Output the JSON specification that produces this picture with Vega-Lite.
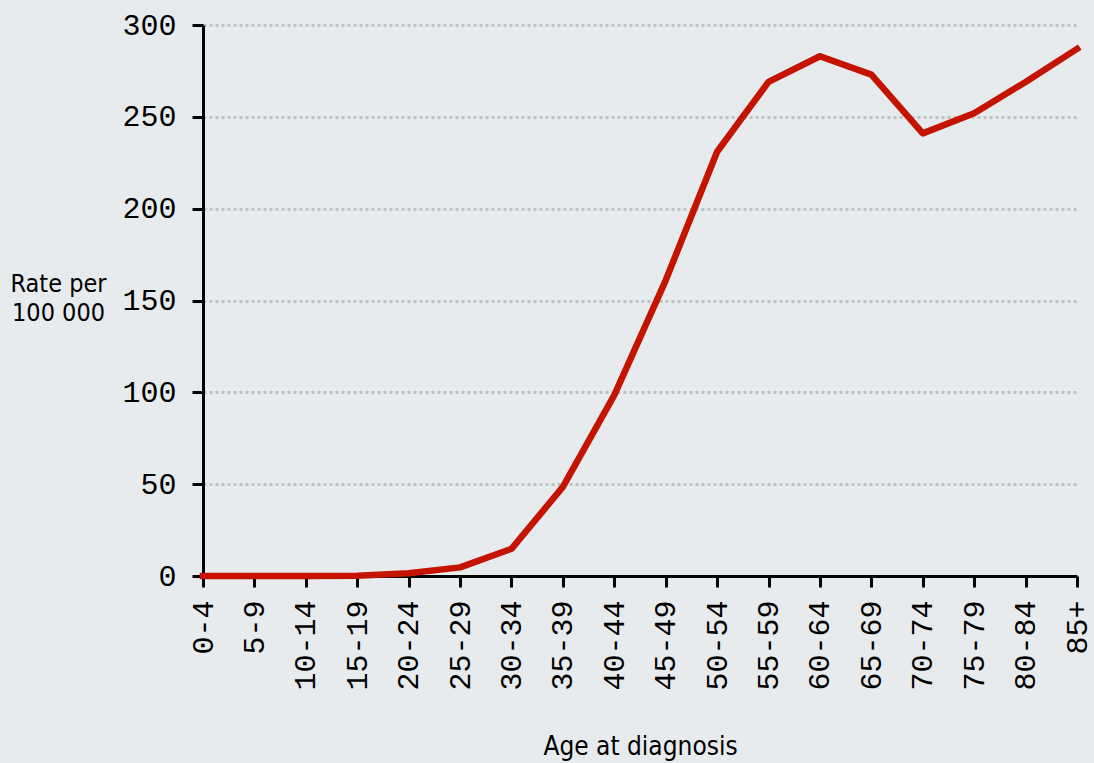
{
  "$schema": "https://vega.github.io/schema/vega-lite/v6.json",
  "width": 874,
  "height": 551,
  "autosize": {"type": "none"},
  "padding": {"left": 203, "top": 25, "right": 17, "bottom": 187},
  "background": "#e8ebee",
  "config": {
    "view": {"stroke": null},
    "axis": {
      "domainColor": "#000000",
      "domainWidth": 3,
      "tickColor": "#000000",
      "tickWidth": 3,
      "labelColor": "#000000",
      "titleColor": "#000000",
      "labelFont": "Liberation Mono",
      "labelFontSize": 30,
      "labelFontWeight": "normal",
      "titleFont": "Liberation Sans Narrow, DejaVu Sans Condensed, Liberation Sans",
      "titleFontWeight": "normal"
    }
  },
  "data": {
    "values": [
      {"age": "0-4", "rate": 0},
      {"age": "5-9", "rate": 0},
      {"age": "10-14", "rate": 0},
      {"age": "15-19", "rate": 0.2},
      {"age": "20-24", "rate": 1.5},
      {"age": "25-29", "rate": 4.7},
      {"age": "30-34", "rate": 14.8},
      {"age": "35-39", "rate": 48.5},
      {"age": "40-44", "rate": 98.5},
      {"age": "45-49", "rate": 161},
      {"age": "50-54", "rate": 231},
      {"age": "55-59", "rate": 269},
      {"age": "60-64", "rate": 283},
      {"age": "65-69", "rate": 273},
      {"age": "70-74", "rate": 241},
      {"age": "75-79", "rate": 252},
      {"age": "80-84", "rate": 269},
      {"age": "85+", "rate": 287}
    ]
  },
  "mark": {"type": "line", "color": "#c41400", "strokeWidth": 6.5, "strokeCap": "square", "strokeJoin": "round"},
  "encoding": {
    "x": {
      "field": "age",
      "type": "ordinal",
      "sort": null,
      "scale": {"type": "point", "padding": 0},
      "axis": {
        "title": "Age at diagnosis",
        "titleFontSize": 26,
        "titleY": 178,
        "titleBaseline": "alphabetic",
        "labelAngle": -90,
        "labelAlign": "right",
        "labelBaseline": "middle",
        "tickSize": 11,
        "labelPadding": 13,
        "grid": false
      }
    },
    "y": {
      "field": "rate",
      "type": "quantitative",
      "scale": {"domain": [0, 300], "nice": false},
      "axis": {
        "title": ["Rate per", "100 000"],
        "titleFontSize": 25,
        "titleAngle": 0,
        "titleAlign": "center",
        "titleBaseline": "middle",
        "titleX": -145,
        "titleY": 258,
        "titleLineHeight": 29,
        "values": [0, 50, 100, 150, 200, 250, 300],
        "tickSize": 11,
        "labelPadding": 16,
        "grid": true,
        "gridColor": "#c0c0c0",
        "gridWidth": 3,
        "gridDash": [3, 3]
      }
    }
  }
}
